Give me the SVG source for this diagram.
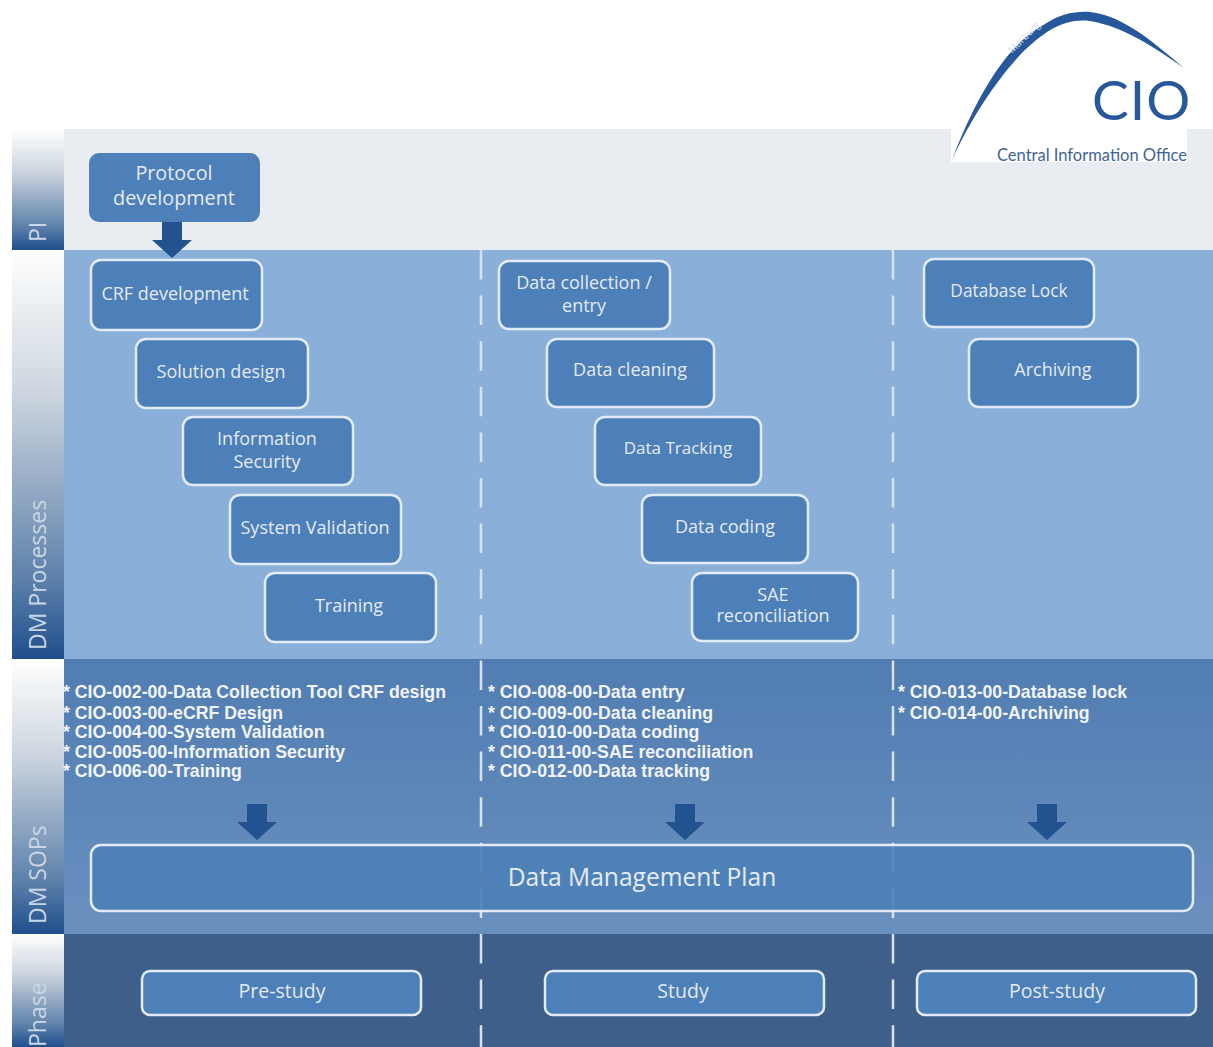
<svg xmlns="http://www.w3.org/2000/svg" width="1213" height="1047" viewBox="0 0 1213 1047">
<style>
.box{fill:#4d7fb8;stroke:#e3ecf5;stroke-width:2.5}
.plain{stroke:none;fill:#4d7fb8}
.t{font-family:"Open Sans","Liberation Sans",sans-serif;fill:#e4ebf3;text-anchor:middle;font-size:18px}
.s{font-family:"Liberation Sans",Arial,sans-serif;fill:#f2f5f9;font-weight:bold;font-size:17.7px}
.side{font-family:"Open Sans","Liberation Sans",sans-serif;fill:#c9d6e5;font-size:23px}
.div{stroke:#d6e2ef;stroke-width:2.5;stroke-dasharray:29.5 16.1;fill:none}
.arr{fill:#22528f}
</style>
<defs>
<linearGradient id="g" x1="0" y1="0" x2="0" y2="1"><stop offset="0" stop-color="#fff"/><stop offset=".35" stop-color="#ccd5df"/><stop offset=".8" stop-color="#5f82ab"/><stop offset="1" stop-color="#1f4e8c"/></linearGradient>
<linearGradient id="sop" x1="0" y1="0" x2="0" y2="1"><stop offset="0" stop-color="#517db2"/><stop offset="1" stop-color="#6a90bf"/></linearGradient>
<path id="a" d="M-10 0H10V18H20L0 36L-20 18H-10Z"/>
</defs>
<rect width="1213" height="1047" fill="#fff"/>
<g id="bands">
<rect x="64" y="129" width="1149" height="121" fill="#e9edf1"/>
<rect x="64" y="250" width="1149" height="409" fill="#8aafd9"/>
<rect x="64" y="659" width="1149" height="275" fill="url(#sop)"/>
<rect x="64" y="934" width="1149" height="113" fill="#3e5f8a"/>
<rect x="12" y="129" width="52" height="121" fill="url(#g)"/>
<rect x="12" y="250" width="52" height="409" fill="url(#g)"/>
<rect x="12" y="659" width="52" height="275" fill="url(#g)"/>
<rect x="12" y="934" width="52" height="113" fill="url(#g)"/>
<text class="side" transform="translate(46 242) rotate(-90)">PI</text>
<text class="side" transform="translate(46 650) rotate(-90)">DM Processes</text>
<text class="side" transform="translate(46 924) rotate(-90)">DM SOPs</text>
<text class="side" transform="translate(46 1047) rotate(-90)">Phase</text>
</g>
<g id="connectors">
<path class="div" d="M481 250V1047"/>
<path class="div" d="M893 250V1047"/>
<use href="#a" class="arr" x="172" y="222"/>
<use href="#a" class="arr" x="257" y="804"/>
<use href="#a" class="arr" x="685" y="804"/>
<use href="#a" class="arr" x="1047" y="804"/>
</g>
<g id="logo">
<rect x="951" y="129" width="236" height="33" fill="#fff"/>
<path d="M952 160C975 100 1005 45 1045 24C1060 14 1075 11 1090 12C1125 16 1155 44 1184 68C1155 48 1125 27 1090 21C1065 18 1045 30 1020 55C995 82 970 120 952 160Z" fill="#27589b"/>
<text transform="translate(1012 54) rotate(-45)" font-family="Open Sans,Liberation Sans,sans-serif" font-size="10" fill="#d8e4f0">Marburg</text>
<text x="1092" y="120" font-family="Lato,Liberation Sans,sans-serif" font-size="55" letter-spacing="1" fill="#27589b">CIO</text>
<text x="997" y="161" font-family="Lato,Liberation Sans,sans-serif" font-size="16.5" fill="#3f6494">Central Information Office</text>
</g>
<g id="n-protocol"><rect class="box plain" x="89" y="153" width="171" height="69" rx="10"/><text class="t" style="font-size:19.8px"><tspan x="174" y="180">Protocol</tspan><tspan x="174" y="205">development</tspan></text></g>
<g id="n-crf"><rect class="box" x="91" y="260" width="171" height="70" rx="10"/><text class="t" x="175" y="300">CRF development</text></g>
<g id="n-solution"><rect class="box" x="136" y="339" width="172" height="69" rx="10"/><text class="t" x="221" y="378">Solution design</text></g>
<g id="n-infosec"><rect class="box" x="183" y="417" width="170" height="68" rx="10"/><text class="t"><tspan x="267" y="445">Information</tspan><tspan x="267" y="468">Security</tspan></text></g>
<g id="n-sysval"><rect class="box" x="230" y="495" width="171" height="69" rx="10"/><text class="t" x="315" y="534">System Validation</text></g>
<g id="n-training"><rect class="box" x="265" y="573" width="171" height="69" rx="10"/><text class="t" x="349" y="612">Training</text></g>
<g id="n-collection"><rect class="box" x="499" y="261" width="171" height="68" rx="10"/><text class="t"><tspan x="584" y="289">Data collection /</tspan><tspan x="584" y="312">entry</tspan></text></g>
<g id="n-cleaning"><rect class="box" x="547" y="339" width="167" height="68" rx="10"/><text class="t" x="630" y="376">Data cleaning</text></g>
<g id="n-tracking"><rect class="box" x="595" y="417" width="166" height="68" rx="10"/><text class="t" x="678" y="454" style="font-size:17px">Data Tracking</text></g>
<g id="n-coding"><rect class="box" x="642" y="495" width="166" height="68" rx="10"/><text class="t" x="725" y="533">Data coding</text></g>
<g id="n-sae"><rect class="box" x="692" y="573" width="166" height="68" rx="10"/><text class="t"><tspan x="773" y="601">SAE</tspan><tspan x="773" y="622">reconciliation</tspan></text></g>
<g id="n-lock"><rect class="box" x="924" y="259" width="170" height="68" rx="10"/><text class="t" x="1009" y="297" style="font-size:17.3px">Database Lock</text></g>
<g id="n-archiving"><rect class="box" x="969" y="339" width="169" height="68" rx="10"/><text class="t" x="1053" y="376">Archiving</text></g>
<g id="sops">
<text class="s"><tspan x="63" y="698">* CIO-002-00-Data Collection Tool CRF design</tspan><tspan x="63" y="719">* CIO-003-00-eCRF Design</tspan><tspan x="63" y="738">* CIO-004-00-System Validation</tspan><tspan x="63" y="758">* CIO-005-00-Information Security</tspan><tspan x="63" y="777">* CIO-006-00-Training</tspan></text>
<text class="s"><tspan x="488" y="698">* CIO-008-00-Data entry</tspan><tspan x="488" y="719">* CIO-009-00-Data cleaning</tspan><tspan x="488" y="738">* CIO-010-00-Data coding</tspan><tspan x="488" y="758">* CIO-011-00-SAE reconciliation</tspan><tspan x="488" y="777">* CIO-012-00-Data tracking</tspan></text>
<text class="s"><tspan x="898" y="698">* CIO-013-00-Database lock</tspan><tspan x="898" y="719">* CIO-014-00-Archiving</tspan></text>
</g>
<g id="n-dmp"><rect class="box" x="91" y="845" width="1102" height="66" rx="10" fill-opacity=".9"/><text class="t" x="642" y="886" style="font-size:24.6px">Data Management Plan</text></g>
<g id="n-pre"><rect class="box" x="142" y="971" width="279" height="44" rx="8"/><text class="t" x="282" y="998" style="font-size:19.5px">Pre-study</text></g>
<g id="n-study"><rect class="box" x="545" y="971" width="279" height="44" rx="8"/><text class="t" x="683" y="998" style="font-size:19.5px">Study</text></g>
<g id="n-post"><rect class="box" x="917" y="971" width="279" height="44" rx="8"/><text class="t" x="1057" y="998" style="font-size:19.5px">Post-study</text></g>
</svg>
